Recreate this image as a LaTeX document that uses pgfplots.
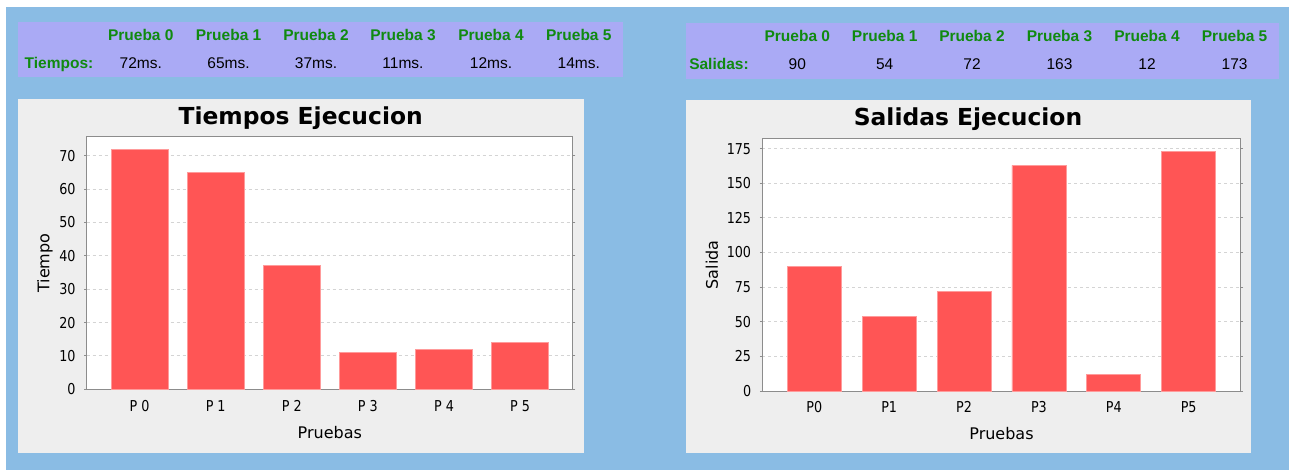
\documentclass[border=0pt]{standalone}
\usepackage{pgfplots}
\pgfplotsset{compat=1.18}
\usepackage{fontspec}
\setmainfont{DejaVu Sans}
\newfontfamily\tabfont{Liberation Sans}
\newfontfamily\tickfont[FakeStretch=0.85]{DejaVu Sans}
\definecolor{bgblue}{RGB}{138,188,228}
\definecolor{lav}{RGB}{170,170,245}
\definecolor{panel}{RGB}{238,238,238}
\definecolor{barred}{RGB}{255,85,85}
\definecolor{baredge}{RGB}{255,155,155}
\definecolor{hdrgreen}{RGB}{16,138,16}
\definecolor{framec}{RGB}{140,140,140}
\definecolor{gridc}{RGB}{212,212,212}
\pgfplotsset{
  jfc/.style={
    scale only axis,
    anchor=south west,
    ybar,
    ymin=0,
    xmin=-0.695, xmax=5.695,
    xtick={0,...,5},
    axis line style={framec, line width=0.5pt},
    axis background/.style={fill=white},
    ymajorgrids,
    grid style={gridc, line width=0.5pt, dash pattern=on 1.5pt off 1.5pt},
    tick align=outside,
    major tick length=1.2pt,
    ytick style={framec, line width=0.5pt},
    xtick style={draw=none},
    ticklabel style={font=\fontsize{7.5}{8.5}\tickfont, inner sep=0pt},
    /pgf/number format/assume math mode=true,
    yticklabel style={anchor=east, xshift=-4.2pt},
    xticklabel style={anchor=center, yshift=-7pt},
    label style={font=\fontsize{8}{9.6}\selectfont},
  }
}
\begin{document}
\begin{tikzpicture}
\begin{scope}[x=0.5pt,y=-0.5pt]
\fill[white] (0,0) rectangle (1289,470);
\fill[bgblue] (6,7) rectangle (1289,470);
\fill[lav] (18,22) rectangle (623,77);
\fill[lav] (686,23) rectangle (1279,79);
\fill[panel] (18,99) rectangle (584,453);
\fill[panel] (686,100) rectangle (1251,453);
% left table
\foreach \x/\t in {140.8/Prueba 0, 228.6/Prueba 1, 316/Prueba 2, 403/Prueba 3, 491/Prueba 4, 578.8/Prueba 5}
  \node[anchor=base, inner sep=0pt, text=hdrgreen, font=\fontsize{7.75}{9}\tabfont\bfseries] at (\x,40.7) {\t};
\node[anchor=base, inner sep=0pt, text=hdrgreen, font=\fontsize{7.75}{9}\tabfont\bfseries] at (59,68.2) {Tiempos:};
\foreach \x/\t in {140.8/72ms., 228.6/65ms., 316/37ms., 403/11ms., 491/12ms., 578.8/14ms.}
  \node[anchor=base, inner sep=0pt, text=black, font=\fontsize{7.75}{9}\tabfont] at (\x,68.2) {\t};
% right table
\foreach \x/\t in {797.3/Prueba 0, 884.7/Prueba 1, 972/Prueba 2, 1059.5/Prueba 3, 1147/Prueba 4, 1234.6/Prueba 5}
  \node[anchor=base, inner sep=0pt, text=hdrgreen, font=\fontsize{7.75}{9}\tabfont\bfseries] at (\x,41.5) {\t};
\node[anchor=base, inner sep=0pt, text=hdrgreen, font=\fontsize{7.75}{9}\tabfont\bfseries] at (719,69.3) {Salidas:};
\foreach \x/\t in {797.3/90, 884.7/54, 972/72, 1059.5/163, 1147/12, 1234.6/173}
  \node[anchor=base, inner sep=0pt, text=black, font=\fontsize{7.75}{9}\tabfont] at (\x,69.3) {\t};
% titles
\node[anchor=base, inner sep=0pt, font=\fontsize{11.7}{14}\selectfont\bfseries] at (300.7,124.3) {Tiempos Ejecucion};
\node[anchor=base, inner sep=0pt, font=\fontsize{11.7}{14}\selectfont\bfseries] at (968,125.5) {Salidas Ejecucion};
\end{scope}

\begin{axis}[jfc,
  at={(43.35pt,-194.65pt)},
  width=243.15pt, height=126.15pt,
  ymax=75.6,
  ytick={0,10,...,70},
  xticklabels={P 0,P 1,P 2,P 3,P 4,P 5},
  xlabel={Pruebas}, ylabel={Tiempo},
  xlabel style={at={(axis description cs:0.5,-0.172)}, anchor=center},
  ylabel style={at={(axis description cs:-0.0858,0.5)}, anchor=center},
]
\addplot[fill=barred, draw=baredge, line width=0.4pt, bar width=28.5pt]
  coordinates {(0,72) (1,65) (2,37) (3,11) (4,12) (5,14)};
\end{axis}

\begin{axis}[jfc,
  at={(381.15pt,-195.5pt)},
  width=239.2pt, height=126pt,
  ymax=182,
  ytick={0,25,...,175},
  xticklabels={P0,P1,P2,P3,P4,P5},
  xlabel={Pruebas}, ylabel={Salida},
  xlabel style={at={(axis description cs:0.5,-0.1679)}, anchor=center},
  ylabel style={at={(axis description cs:-0.1056,0.5)}, anchor=center},
]
\addplot[fill=barred, draw=baredge, line width=0.4pt, bar width=27pt]
  coordinates {(0,90) (1,54) (2,72) (3,163) (4,12) (5,173)};
\end{axis}
\pgfresetboundingbox
\path[use as bounding box] (0,0) rectangle (644.5pt,-235pt);
\end{tikzpicture}
\end{document}
